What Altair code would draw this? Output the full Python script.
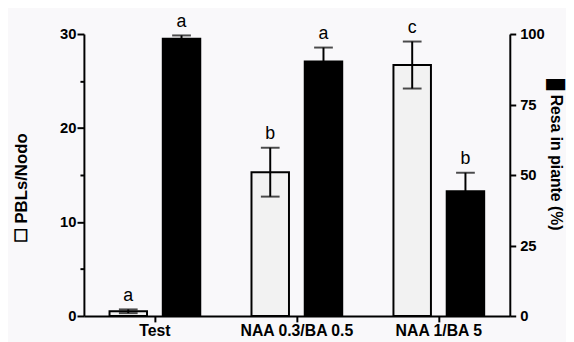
import altair as alt
import pandas as pd

categories = ["Test", "NAA 0.3/BA 0.5", "NAA 1/BA 5"]
series_names = ["PBLs/Nodo", "Resa in piante (%)"]

pbl_mean = [0.5, 15.3, 26.7]
pbl_err = [0.2, 2.6, 2.5]
pbl_letters = ["a", "b", "c"]

resa_mean = [98.3, 90.3, 44.2]
resa_err = [1.2, 4.9, 6.6]
resa_letters = ["a", "a", "b"]

rows = []
for c, m, e, l in zip(categories, pbl_mean, pbl_err, pbl_letters):
    rows.append(dict(category=c, series=series_names[0], mean=m, lower=m - e, upper=m + e, letter=l))
for c, m, e, l in zip(categories, resa_mean, resa_err, resa_letters):
    rows.append(dict(category=c, series=series_names[1], mean=m, lower=m - e, upper=m + e, letter=l))
df = pd.DataFrame(rows)

FONT = "Liberation Sans"

x_enc = alt.X(
    "category:N",
    sort=categories,
    scale=alt.Scale(paddingInner=0, paddingOuter=0),
    axis=alt.Axis(
        title=None, labelAngle=0, labelFont=FONT, labelFontSize=16, labelFontWeight="bold",
        labelColor="black", domainColor="black", domainWidth=2, tickColor="black",
        tickWidth=2, tickSize=6, labelPadding=1,
    ),
)
xo_enc = alt.XOffset(
    "series:N",
    sort=series_names,
    scale=alt.Scale(domain=series_names, paddingInner=0.296, paddingOuter=0.481),
)

pbl_axis = alt.Axis(
    orient="left", values=[0, 5, 10, 15, 20, 25, 30],
    labelExpr="datum.value % 10 === 0 ? datum.label : ''",
    tickSize={"condition": {"test": "datum.value % 10 === 0", "value": 7}, "value": 4},
    grid=False, labelFont=FONT, labelFontSize=15, labelFontWeight="bold", labelColor="black",
    labelPadding=1, domainColor="black", domainWidth=2, tickColor="black", tickWidth=2,
    title="☐ PBLs/Nodo", titleFont=FONT, titleFontSize=17, titleFontWeight="bold",
    titleColor="black", titleX=-63, titleY=156, titleAngle=-90, titleAlign="center",
    titleBaseline="middle",
)
resa_axis = alt.Axis(
    orient="right", values=[0, 25, 50, 75, 100], tickSize=6,
    grid=False, labelFont=FONT, labelFontSize=15, labelFontWeight="bold", labelColor="black",
    labelPadding=4, domainColor="black", domainWidth=2, tickColor="black", tickWidth=2,
    title="█ Resa in piante (%)", titleFont=FONT, titleFontSize=16, titleFontWeight="bold",
    titleColor="black", titleX=46, titleY=122, titleAngle=90, titleAlign="center",
    titleBaseline="middle",
)


def group(name, domain, axis, fill):
    base = alt.Chart(df).transform_filter(alt.datum.series == name)
    sc = alt.Scale(domain=domain, nice=False, zero=True)
    bars = base.mark_bar(fill=fill, stroke="black", strokeWidth=2).encode(
        x=x_enc, xOffset=xo_enc, y=alt.Y("mean:Q", scale=sc, axis=axis)
    )
    rule = base.mark_rule(color="black", strokeWidth=2).encode(
        x=x_enc, xOffset=xo_enc, y=alt.Y("lower:Q", scale=sc, axis=axis), y2="upper:Q"
    )
    cap_hi = base.mark_tick(color="black", thickness=2, size=19).encode(
        x=x_enc, xOffset=xo_enc, y=alt.Y("upper:Q", scale=sc, axis=axis)
    )
    cap_lo = base.mark_tick(color="black", thickness=2, size=19).encode(
        x=x_enc, xOffset=xo_enc, y=alt.Y("lower:Q", scale=sc, axis=axis)
    )
    txt = base.mark_text(font=FONT, fontSize=18, color="black", baseline="alphabetic", dy=-9).encode(
        x=x_enc, xOffset=xo_enc, y=alt.Y("upper:Q", scale=sc, axis=axis), text="letter:N"
    )
    return alt.layer(bars, rule, cap_hi, cap_lo, txt)


chart = alt.layer(
    group(series_names[0], [0, 30], pbl_axis, "#f2f2f2"),
    group(series_names[1], [0, 100], resa_axis, "black"),
).resolve_scale(y="independent").properties(
    width=432,
    height=286,
    autosize=alt.AutoSizeParams(type="none"),
    padding={"left": 77, "top": 24, "right": 57, "bottom": 24},
    background="#f9f8fa",
).configure_view(stroke=None)

chart.save("out.html", embed_options={"renderer": "svg", "actions": False})
